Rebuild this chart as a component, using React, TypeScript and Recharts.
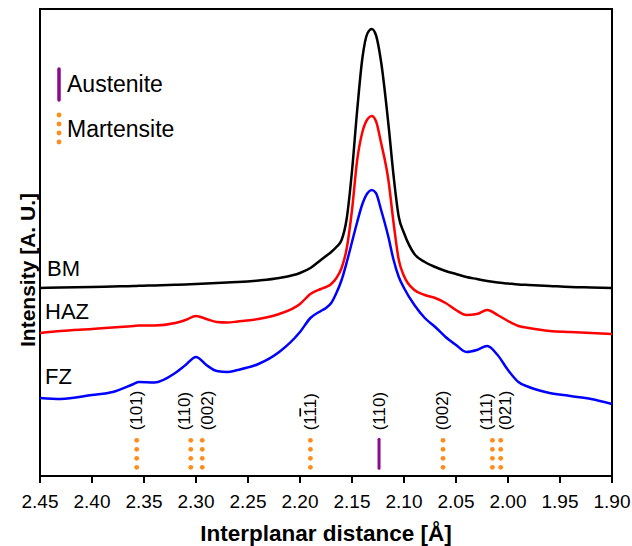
import React from 'react';
import { ComposedChart, Line, Scatter, XAxis, YAxis, ReferenceArea } from 'recharts';

// interplanar distance [Å] sample points
const distance = [
  2.45, 2.43, 2.40, 2.38, 2.36, 2.355, 2.34, 2.32, 2.31, 2.30, 2.29, 2.28, 2.27, 2.26, 2.24, 2.22,
  2.20, 2.19, 2.18, 2.175, 2.17, 2.165, 2.16, 2.155, 2.15, 2.145, 2.14, 2.135, 2.131, 2.127, 2.122,
  2.115, 2.11, 2.105, 2.10, 2.09, 2.08, 2.07, 2.06, 2.05, 2.04, 2.03, 2.02, 2.01, 2.00, 1.99, 1.98,
  1.96, 1.94, 1.92, 1.90,
];

// intensity (arbitrary units, curves stacked with offsets)
const bm = [
  188, 188.5, 189, 189.5, 190, 190.2, 190.6, 191.2, 191.6, 192, 192.5, 193, 193.5, 194, 195.5, 198,
  203, 208, 216, 220, 224, 229, 236, 258, 305, 366, 418, 443, 447, 441, 414,
  352, 300, 259, 243, 222, 214, 209, 205, 202, 199, 197, 195, 193.5, 192.5, 191.5, 191,
  190, 189, 188.5, 188,
];
const haz = [
  143, 145, 147, 148.5, 150, 150.5, 150.5, 153, 156, 160, 157, 154, 153.5, 154.5, 157, 162,
  172, 182, 187, 189, 192, 198, 208, 228, 266, 316, 344, 357, 360, 355, 333,
  296, 253, 216, 200, 186, 181, 178, 173, 166, 161, 162, 166, 161, 155, 150, 148,
  145, 144, 143, 142,
];
const fz = [
  78, 77, 81, 84, 92, 94, 93.5, 103, 111, 119, 111, 105, 104, 106, 112, 124,
  144, 158, 165, 168, 173, 183, 196, 214, 234, 254, 272, 283, 286, 283, 266,
  239, 216, 199, 188, 171, 158, 149, 139, 131, 124, 126, 130, 121, 106, 94, 89,
  83, 80, 77, 72,
];

// reflection positions
const martensitePeaks = [2.357, 2.305, 2.294, 2.19, 2.0625, 2.015, 2.007];
const martensiteLabels = ['(101)', '(110)', '(002)', '(1-11)', '(002)', '(111)', '(021)'];
const austenitePeaks = [2.124];
const austeniteLabels = ['(110)'];

const xTicks = [2.45, 2.4, 2.35, 2.3, 2.25, 2.2, 2.15, 2.1, 2.05, 2.0, 1.95, 1.9];

const rows = distance.map((d, i) => ({ d, bm: bm[i], haz: haz[i], fz: fz[i] }));

const FONT = '"Liberation Sans", Arial, Helvetica, sans-serif';
const ORANGE = '#ff8c1a';
const PURPLE = '#8b0a8b';
const BASE = 8.7;

const withNeighbours = (peaks: number[], labels: string[]) =>
  peaks.map((d, i) => {
    let shift = 0;
    if (i < peaks.length - 1 && Math.abs(peaks[i + 1] - d) < 0.02) shift = -6;
    else if (i > 0 && Math.abs(peaks[i - 1] - d) < 0.02) shift = 5;
    return { d, base: BASE, label: labels[i], shift };
  });

const martensiteData = withNeighbours(martensitePeaks, martensiteLabels);
const austeniteData = withNeighbours(austenitePeaks, austeniteLabels);

// "(1-11)" means a bar over the middle index
const labelParts = (text: string) => {
  const m = text.match(/^\((\d)-(\d)(\d)\)$/);
  if (!m) return text;
  return (
    <>
      {'(' + m[1]}
      <tspan textDecoration="overline" style={{ textDecoration: 'overline' }}>{m[2]}</tspan>
      {m[3] + ')'}
    </>
  );
};

const PeakLabel = ({ x, y, text }: { x: number; y: number; text: string }) => (
  <text
    x={x}
    y={y}
    transform={`rotate(-90 ${x} ${y})`}
    dominantBaseline="central"
    fontSize={17}
    fontFamily={FONT}
    fill="#000"
  >
    {labelParts(text)}
  </text>
);

const MartensiteMark = (props: any) => {
  const { cx, cy, payload } = props;
  return (
    <g>
      {[0, 9, 18, 27].map((o) => (
        <circle key={o} cx={cx} cy={cy - o} r={2.4} fill={ORANGE} />
      ))}
      <PeakLabel x={cx + payload.shift} y={cy - 37} text={payload.label} />
    </g>
  );
};

const AusteniteMark = (props: any) => {
  const { cx, cy, payload } = props;
  return (
    <g>
      <line x1={cx} y1={cy + 1} x2={cx} y2={cy - 28} stroke={PURPLE} strokeWidth={3} strokeLinecap="round" />
      <PeakLabel x={cx + payload.shift} y={cy - 37} text={payload.label} />
    </g>
  );
};

export default function App() {
  return (
    <div style={{ position: 'absolute', left: 0, top: 0, width: 632, height: 546, background: '#fff' }}>
      <ComposedChart
        width={632}
        height={546}
        data={rows}
        margin={{ top: 9, right: 20, left: 40, bottom: 0 }}
      >
        <XAxis
          type="number"
          dataKey="d"
          domain={[1.9, 2.45]}
          reversed
          allowDataOverflow
          ticks={xTicks}
          interval={0}
          tickFormatter={(v: number) => v.toFixed(2)}
          height={70}
          tickSize={7}
          tickMargin={12}
          axisLine={{ stroke: '#000', strokeWidth: 2 }}
          tickLine={{ stroke: '#000', strokeWidth: 2 }}
          tick={{ fill: '#000', fontSize: 19, fontFamily: FONT }}
        />
        <YAxis hide type="number" domain={[0, 467]} allowDataOverflow />
        <ReferenceArea
          x1={2.45}
          x2={1.9}
          y1={0}
          y2={467}
          fill="none"
          fillOpacity={0}
          stroke="#000"
          strokeWidth={2}
          ifOverflow="visible"
        />
        <Line type="monotone" dataKey="fz" stroke="#0000ff" strokeWidth={2.5} dot={false} isAnimationActive={false} />
        <Line type="monotone" dataKey="haz" stroke="#ff0000" strokeWidth={2.5} dot={false} isAnimationActive={false} />
        <Line type="monotone" dataKey="bm" stroke="#000000" strokeWidth={2.5} dot={false} isAnimationActive={false} />
        <Scatter data={martensiteData} dataKey="base" shape={MartensiteMark} isAnimationActive={false} />
        <Scatter data={austeniteData} dataKey="base" shape={AusteniteMark} isAnimationActive={false} />
      </ComposedChart>

      <svg
        width={632}
        height={546}
        style={{ position: 'absolute', left: 0, top: 0, pointerEvents: 'none' }}
        fontFamily={FONT}
      >
        {/* legend */}
        <line x1={59} y1={69} x2={59} y2={100} stroke={PURPLE} strokeWidth={3.5} strokeLinecap="round" />
        <text x={67} y={92} fontSize={23} fill="#000">Austenite</text>
        {[115, 124, 133, 142].map((y) => (
          <circle key={y} cx={59} cy={y} r={2.4} fill={ORANGE} />
        ))}
        <text x={67} y={137} fontSize={23} fill="#000">Martensite</text>

        {/* curve names */}
        <text x={47} y={276} fontSize={22} fill="#000">BM</text>
        <text x={45} y={319} fontSize={22} fill="#000">HAZ</text>
        <text x={45} y={384} fontSize={22} fill="#000">FZ</text>

        {/* axis titles */}
        <text x={326} y={541} fontSize={22.5} fontWeight="bold" textAnchor="middle" fill="#000">
          Interplanar distance [Å]
        </text>
        <text
          x={27.5}
          y={270}
          transform="rotate(-90 27.5 270)"
          fontSize={21}
          fontWeight="bold"
          textAnchor="middle"
          dominantBaseline="central"
          fill="#000"
        >
          Intensity [A. U.]
        </text>
      </svg>
    </div>
  );
}
